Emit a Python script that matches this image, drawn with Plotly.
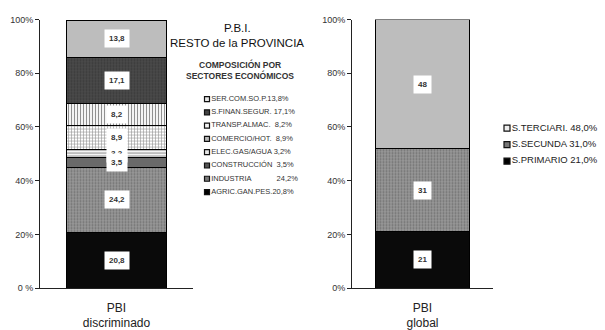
import plotly.graph_objects as go

# ---- data ----
left_category = ["PBI<br>discriminado"]
left_sectors = ["AGRIC.GAN.PES.", "INDUSTRIA", "CONSTRUCCIÓN", "ELEC.GAS/AGUA",
                "COMERCIO/HOT.", "TRANSP.ALMAC.", "S.FINAN.SEGUR.", "SER.COM.SO.P."]
left_values = [20.8, 24.2, 3.5, 3.2, 8.9, 8.2, 17.1, 13.8]
left_legend_text = ["AGRIC.GAN.PES.20,8%",
                    "INDUSTRIA\u00a0\u00a0\u00a0\u00a0\u00a0\u00a0\u00a0\u00a0\u00a0\u00a0\u00a0\u00a024,2%",
                    "CONSTRUCCIÓN\u00a0\u00a03,5%", "ELEC.GAS/AGUA 3,2%", "COMERCIO/HOT.\u00a0 8,9%",
                    "TRANSP.ALMAC.\u00a0 8,2%", "S.FINAN.SEGUR. 17,1%", "SER.COM.SO.P.13,8%"]

right_category = ["PBI<br>global"]
right_sectors = ["S.PRIMARIO", "S.SECUNDA", "S.TERCIARI"]
right_values = [21, 31, 48]
right_legend_text = ["S.PRIMARIO 21,0%", "S.SECUNDA 31,0%", "S.TERCIARI. 48,0%"]

y_tickvals = [0, 20, 40, 60, 80, 100]
left_ticktext = ["0 %", "20%", "40%", "60%", "80%", "100%"]
right_ticktext = ["0%", "20%", "40%", "60%", "80%", "100%"]

# ---- styles ----
left_styles = [
    dict(color="#0a0a0a", pattern=dict(shape="")),
    dict(color="#8c8c8c", pattern=dict(shape=".", fgcolor="#4a4a4a", bgcolor="#999999", size=3, solidity=0.4)),
    dict(color="#6a6a6a", pattern=dict(shape="")),
    dict(color="#ffffff", pattern=dict(shape="-", fgcolor="#222222", bgcolor="#ffffff", size=3, solidity=0.4)),
    dict(color="#ffffff", pattern=dict(shape="+", fgcolor="#222222", bgcolor="#ffffff", size=3, solidity=0.35)),
    dict(color="#ffffff", pattern=dict(shape="|", fgcolor="#222222", bgcolor="#ffffff", size=3, solidity=0.4)),
    dict(color="#444444", pattern=dict(shape=".", fgcolor="#2a2a2a", bgcolor="#4a4a4a", size=3, solidity=0.4)),
    dict(color="#bdbdbd", pattern=dict(shape="")),
]
left_legend_colors = ["#000000", "#7a7a7a", "#555555", "#e8e8e8", "#bbbbbb", "#f5f5f5", "#444444", "#e8e8e8"]
right_styles = [
    dict(color="#0a0a0a", pattern=dict(shape="")),
    dict(color="#8c8c8c", pattern=dict(shape=".", fgcolor="#4a4a4a", bgcolor="#999999", size=3, solidity=0.4)),
    dict(color="#bdbdbd", pattern=dict(shape="")),
]
right_legend_colors = ["#000000", "#777777", "#eeeeee"]

FONT = "Liberation Sans, Arial, sans-serif"
fig = go.Figure()

for name, val, st in zip(left_sectors, left_values, left_styles):
    fig.add_trace(go.Bar(
        x=left_category, y=[val], name=name, width=0.66,
        marker=dict(color=st["color"], pattern=st["pattern"], line=dict(color="#000", width=1)),
        xaxis="x", yaxis="y", showlegend=False, hoverinfo="skip"))

for name, val, st in zip(right_sectors, right_values, right_styles):
    fig.add_trace(go.Bar(
        x=right_category, y=[val], name=name, width=0.67,
        marker=dict(color=st["color"], pattern=st["pattern"], line=dict(color="#000", width=1)),
        xaxis="x2", yaxis="y2", showlegend=False, hoverinfo="skip"))

# legends drawn as marker+text rows (top to bottom)
fig.add_trace(go.Scatter(
    x=[0] * len(left_sectors), y=left_sectors[::-1], mode="markers+text",
    text=left_legend_text[::-1], textposition="middle right",
    textfont=dict(family=FONT, size=7.5, color="#333"),
    marker=dict(symbol="square", size=5, color=left_legend_colors[::-1], line=dict(color="#111", width=1.2)),
    xaxis="x3", yaxis="y3", showlegend=False, hoverinfo="skip", cliponaxis=False))

fig.add_trace(go.Scatter(
    x=[0] * len(right_sectors), y=right_sectors[::-1], mode="markers+text",
    text=right_legend_text[::-1], textposition="middle right",
    textfont=dict(family=FONT, size=9.5, color="#222"),
    marker=dict(symbol="square", size=6, color=right_legend_colors[::-1], line=dict(color="#111", width=1.2)),
    xaxis="x4", yaxis="y4", showlegend=False, hoverinfo="skip", cliponaxis=False))

annotations = []
cum = 0
for val in left_values:
    annotations.append(dict(x=left_category[0], y=cum + val / 2, xref="x", yref="y",
                            text="<b>" + f"{val:.1f}".replace(".", ",") + "</b>", showarrow=False,
                            bgcolor="white", borderpad=4,
                            font=dict(family=FONT, size=8, color="#333")))
    cum += val
annotations = annotations[::-1]
cum = 0
for val in right_values:
    annotations.append(dict(x=right_category[0], y=cum + val / 2, xref="x2", yref="y2",
                            text=f"<b>{val:d}</b>", showarrow=False,
                            bgcolor="white", borderpad=4,
                            font=dict(family=FONT, size=8, color="#333")))
    cum += val

annotations += [
    dict(x=237 / 605, y=1 - 24 / 330, xref="paper", yref="paper", text="P.B.I.", showarrow=False,
         xanchor="center", yanchor="middle", font=dict(family=FONT, size=11.5, color="#111")),
    dict(x=237 / 605, y=1 - 39 / 330, xref="paper", yref="paper", text="RESTO de la PROVINCIA", showarrow=False,
         xanchor="center", yanchor="middle", font=dict(family=FONT, size=11.5, color="#111")),
    dict(x=240 / 605, y=1 - 61 / 330, xref="paper", yref="paper", text="<b>COMPOSICIÓN POR</b>", showarrow=False,
         xanchor="center", yanchor="middle", font=dict(family=FONT, size=8.5, color="#333")),
    dict(x=240 / 605, y=1 - 73 / 330, xref="paper", yref="paper", text="<b>SECTORES ECONÓMICOS</b>", showarrow=False,
         xanchor="center", yanchor="middle", font=dict(family=FONT, size=8.5, color="#333")),
]

axis_common = dict(showline=True, linecolor="#222", linewidth=1, showgrid=False, zeroline=False,
                   ticks="outside", ticklen=4, tickcolor="#222", tickfont=dict(family=FONT, size=9, color="#333"))
xaxis_common = dict(showline=True, linecolor="#222", ticks="outside", ticklen=8, tickcolor="rgba(0,0,0,0)",
                    tickfont=dict(family=FONT, size=12, color="#222"), range=[-0.5, 0.5])
hidden = dict(visible=False, showgrid=False, zeroline=False)

# legend row geometry
l_top, l_step = 97, 13.7
l_n = len(left_sectors)
r_top, r_step = 127, 17
r_n = len(right_sectors)

fig.update_layout(
    width=605, height=330, margin=dict(l=0, r=0, t=0, b=0),
    paper_bgcolor="white", plot_bgcolor="rgba(0,0,0,0)", barmode="stack",
    xaxis=dict(domain=[40 / 605, 193 / 605], anchor="y", **xaxis_common),
    xaxis2=dict(domain=[352 / 605, 493 / 605], anchor="y2", **xaxis_common),
    yaxis=dict(domain=[1 - 292 / 330, 1 - 15 / 330], range=[0, 100], anchor="x",
               tickvals=y_tickvals, ticktext=left_ticktext, **axis_common),
    yaxis2=dict(domain=[1 - 292 / 330, 1 - 15 / 330], range=[0, 100], anchor="x2",
                tickvals=y_tickvals, ticktext=right_ticktext, **axis_common),
    xaxis3=dict(domain=[207 / 605, 305 / 605], range=[0, 1], anchor="y3", **hidden),
    yaxis3=dict(domain=[1 - (l_top + l_step * (l_n - 0.5)) / 330, 1 - (l_top - l_step / 2) / 330],
                range=[l_n - 0.5, -0.5], anchor="x3", type="category", **hidden),
    xaxis4=dict(domain=[507 / 605, 600 / 605], range=[0, 1], anchor="y4", **hidden),
    yaxis4=dict(domain=[1 - (r_top + r_step * (r_n - 0.5)) / 330, 1 - (r_top - r_step / 2) / 330],
                range=[r_n - 0.5, -0.5], anchor="x4", type="category", **hidden),
    annotations=annotations,
    showlegend=False,
)

fig.write_html("out.html", config={"displayModeBar": False},
               post_script="document.body.style.margin='0';document.body.style.overflow='hidden';")
